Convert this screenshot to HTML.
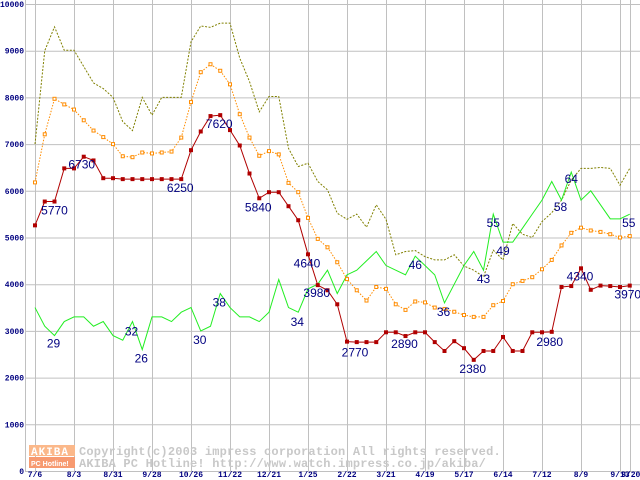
<!DOCTYPE html>
<html><head><meta charset="utf-8"><style>
body{margin:0;background:#fff;}
svg{display:block;font-family:"Liberation Sans",sans-serif;}
</style></head><body>
<svg id="chart" width="640" height="480" xmlns="http://www.w3.org/2000/svg"></svg>
<script>
const yTicks=[0,1000,2000,3000,4000,5000,6000,7000,8000,9000,10000];
const xLabels=["7/6","8/3","8/31","9/28","10/26","11/22","12/21","1/25","2/22","3/21","4/19","5/17","6/14","7/12","8/9","9/13","9/20"];
const xLabelIdx=[0,4,8,12,16,20,24,28,32,36,40,44,48,52,56,60,61];
const priceMin=[5260,5770,5770,6480,6480,6730,6650,6270,6270,6250,6250,6250,6250,6250,6250,6250,6870,7270,7600,7620,7300,6970,6370,5840,5970,5970,5670,5370,4640,3980,3870,3570,2770,2760,2760,2760,2970,2970,2890,2970,2970,2760,2570,2780,2630,2380,2570,2570,2870,2570,2570,2970,2970,2980,3940,3960,4340,3880,3970,3960,3940,3970];
const priceAvg=[6180,7210,7970,7850,7740,7510,7290,7150,7000,6740,6720,6820,6800,6820,6840,7140,7900,8540,8710,8570,8280,7640,7140,6750,6850,6780,6170,5970,5420,4970,4790,4470,4110,3870,3650,3940,3900,3570,3450,3630,3610,3500,3470,3410,3340,3300,3300,3550,3640,4000,4070,4150,4320,4520,4830,5100,5210,5150,5120,5070,5000,5030];
const priceMax=[7000,9000,9510,9010,9010,8660,8310,8190,8000,7480,7290,8000,7620,8000,8000,8000,9190,9530,9500,9590,9590,8840,8340,7690,8020,8020,6910,6520,6590,6200,6020,5520,5390,5500,5220,5700,5390,4630,4700,4720,4590,4520,4520,4630,4390,4300,4160,4730,4520,5300,5070,5000,5340,5530,5800,6230,6480,6480,6500,6480,6120,6480];
const shopCount=[35,31,29,32,33,33,31,32,29,28,32,26,33,33,32,34,35,30,31,38,35,33,33,32,34,41,35,34,39,40,43,38,42,43,45,47,44,43,42,46,44,42,36,40,44,47,43,55,49,49,52,55,58,62,58,64,58,60,57,54,54,55];
const minLabels=[[2,"5770",0,13],[5,"6730",-2,12],[15,"6250",-1,13],[19,"7620",-1,13],[23,"5840",-1,13],[28,"4640",-1,13],[29,"3980",-1,12],[32,"2770",8,15],[38,"2890",-1,12],[45,"2380",-1,13],[53,"2980",-2,14],[56,"4340",-1,12],[61,"3970",-2,13]];
const countLabels=[[2,"29",-1,12],[10,"32",-1,14],[11,"26",-1,13],[17,"30",-1,13],[19,"38",-1,13],[27,"34",-1,14],[39,"46",0,13],[42,"36",-1,13],[46,"43",0,13],[47,"55",0,13],[48,"49",0,13],[54,"58",-1,11],[55,"64",0,11],[61,"55",-1,13]];

const svg=document.getElementById('chart');
const NS="http://www.w3.org/2000/svg";
const X0=35,DX=9.75,Y0=471,YS=0.0467;
const xs=i=>X0+DX*i;
const ys=v=>Y0-v*YS;
function mk(tag,attrs,parent){const e=document.createElementNS(NS,tag);for(const k in attrs)e.setAttribute(k,attrs[k]);(parent||svg).appendChild(e);return e;}

const grid=mk('g',{});


yTicks.forEach(v=>{
  const l=mk('line',{x1:25,x2:640,y1:ys(v)+0.5,y2:ys(v)+0.5,stroke:'#c0c0c0','stroke-width':1},grid);
  
  
  const t=mk('text',{x:24,y:ys(v)+3,'text-anchor':'end','font-family':'Liberation Mono, monospace','font-weight':'bold','font-size':8,fill:'#000080'});
  t.textContent=v;
  
  
});
const ax=mk('line',{x1:25.5,x2:25.5,y1:0,y2:471,stroke:'#c0c0c0'},grid);


xLabelIdx.forEach((idx,k)=>{
  const x=Math.round(xs(idx))+0.5;
  const l=mk('line',{x1:x,x2:x,y1:0,y2:471,stroke:'#c0c0c0'},grid);
  
  
  const t=mk('text',{x:xs(idx)+(k===16?1:0),y:477,'text-anchor':'middle','font-family':'Liberation Mono, monospace','font-weight':'bold','font-size':8,fill:'#000080'});
  t.textContent=xLabels[k];
  
  
});

const wm=mk('g',{});


mk('rect',{x:29,y:445,width:46,height:11,fill:'#fbb88a'},wm);
mk('rect',{x:29,y:457,width:46,height:11,fill:'#f79a70'},wm);
const w1=mk('text',{x:31,y:455,'font-family':'Liberation Mono, monospace','font-weight':'bold','font-size':11,fill:'#fff','letter-spacing':'1'},wm);w1.textContent='AKIBA';
const w2=mk('text',{x:31,y:466,'font-family':'Liberation Sans, sans-serif','font-weight':'bold','font-size':7,fill:'#fff'},wm);w2.textContent='PC Hotline!';
const w3=mk('text',{x:79,y:455,'font-family':'Liberation Mono, monospace','font-weight':'bold','font-size':12,fill:'#c8c8c8','letter-spacing':'0.2'},wm);w3.textContent='Copyright(c)2003 impress corporation All rights reserved.';
const w4=mk('text',{x:79,y:467,'font-family':'Liberation Mono, monospace','font-weight':'bold','font-size':12,fill:'#c8c8c8','letter-spacing':'0.2'},wm);w4.textContent='AKIBA PC Hotline!  http://www.watch.impress.co.jp/akiba/';

function series(vals,name,color,dash,width){
  const g=mk('g',{});
  
  
  const p=mk('polyline',{points:vals.map((v,i)=>xs(i)+','+ys(v)).join(' '),fill:'none',stroke:color,'stroke-width':width},g);
  if(dash)p.setAttribute('stroke-dasharray',dash);
  
  
  return g;
}
series(priceMax,'max-price-series','#808000','2,1.5',1);
series(shopCount.map(c=>c*100),'shop-count-series','#22ee22',null,1);
const ga=series(priceAvg,'avg-price-series','#ff8c00','1.5,1.5',1);
priceAvg.forEach((v,i)=>{
  const r=mk('rect',{x:xs(i)-1.5,y:ys(v)-1.5,width:3,height:3,fill:'#fff',stroke:'#ff8c00','stroke-width':1},ga);
  
  
});
const gm=series(priceMin,'min-price-series','#b00000',null,1);
priceMin.forEach((v,i)=>{
  const r=mk('rect',{x:xs(i)-2,y:ys(v)-2,width:4,height:4,fill:'#b00000'},gm);
  
  
});
minLabels.forEach(([i,txt,dx,dy])=>{
  const t=mk('text',{x:xs(i)+dx,y:ys(priceMin[i])+dy,'text-anchor':'middle','font-size':12,fill:'#000080'});
  t.textContent=txt;
  
  
});
countLabels.forEach(([i,txt,dx,dy])=>{
  const t=mk('text',{x:xs(i)+dx,y:ys(shopCount[i]*100)+dy,'text-anchor':'middle','font-size':12,fill:'#000080'});
  t.textContent=txt;
  
  
});
</script>
</body></html>
